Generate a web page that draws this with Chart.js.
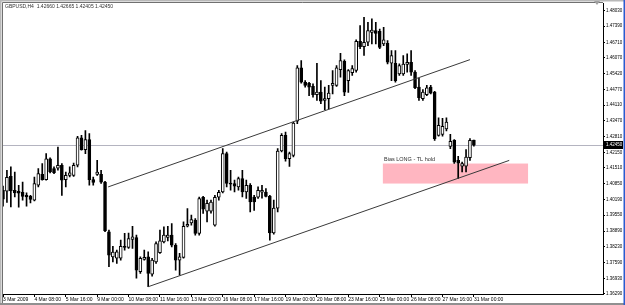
<!DOCTYPE html>
<html><head><meta charset="utf-8">
<script src="https://cdn.jsdelivr.net/npm/chart.js@4.4.1/dist/chart.umd.min.js"></script>
<style>html,body{margin:0;padding:0;background:#fff;overflow:hidden}canvas{display:block}</style>
</head><body>
<canvas id="c" width="625" height="305"></canvas>
<script>
// ---- DATA (GBPUSD H4, 3 Mar 2009 - 31 Mar 2009) ----
const symbolTitle = 'GBPUSD,H4  1.42660 1.42665 1.42405 1.42450';
const openP = [
1.4058,1.4054,1.4116,1.4058,1.4054,1.4050,1.4037,1.4033,1.4017,1.4079,
1.4124,1.4102,1.4189,1.4148,1.4150,1.4162,1.4102,1.4120,1.4120,1.4162,
1.4276,1.4227,1.4268,1.4102,1.4124,1.4124,1.4092,1.3886,1.3782,1.3776,
1.3776,1.3826,1.3821,1.3854,1.3862,1.3720,1.3771,1.3782,1.3710,1.3761,
1.3799,1.3844,1.3862,1.3872,1.3830,1.3768,1.3780,1.3909,1.3923,1.3934,
1.3879,1.4029,1.3971,1.3971,1.3913,1.4029,1.4051,1.4210,1.4088,1.4086,
1.4072,1.4107,1.4051,1.4079,1.4030,1.4029,1.4050,1.4051,1.4033,1.3881,
1.3984,1.4221,1.4286,1.4189,1.4203,1.4345,1.4566,1.4506,1.4502,1.4489,
1.4455,1.4465,1.4431,1.4438,1.4493,1.4493,1.4558,1.4593,1.4513,1.4546,
1.4555,1.4676,1.4654,1.4672,1.4713,1.4720,1.4717,1.4665,1.4668,1.4585,
1.4585,1.4541,1.4541,1.4580,1.4589,1.4548,1.4486,1.4438,1.4455,1.4486,
1.4465,1.4286,1.4290,1.4313,1.4240,1.4265,1.4182,1.4158,1.4158,1.4193,
1.42660];
const highP = [
1.4075,1.4141,1.4155,1.4134,1.4079,1.4092,1.4047,1.4037,1.4113,1.4148,
1.4169,1.4210,1.4193,1.4155,1.4237,1.4169,1.4134,1.4155,1.4171,1.4282,
1.4286,1.4306,1.4293,1.4113,1.4182,1.4141,1.4095,1.3893,1.3826,1.3810,
1.3851,1.3879,1.3881,1.3909,1.3872,1.3782,1.3810,1.3803,1.3776,1.3844,
1.3893,1.3906,1.3909,1.3920,1.3837,1.3796,1.3927,1.3982,1.3955,1.3941,
1.4030,1.4033,1.4017,1.4017,1.4037,1.4058,1.4231,1.4217,1.4141,1.4100,
1.4113,1.4141,1.4100,1.4086,1.4037,1.4072,1.4079,1.4065,1.4037,1.4017,
1.4231,1.4293,1.4299,1.4217,1.4341,1.4575,1.4596,1.4513,1.4506,1.4500,
1.4585,1.4513,1.4486,1.4493,1.4555,1.4575,1.4626,1.4599,1.4559,1.4575,
1.4682,1.4741,1.4775,1.4755,1.4769,1.4755,1.4727,1.4734,1.4679,1.4638,
1.4638,1.4583,1.4617,1.4624,1.4638,1.4555,1.4522,1.4476,1.4493,1.4493,
1.4469,1.4359,1.4356,1.4359,1.4290,1.4268,1.4199,1.4175,1.4227,1.4272,
1.42665];
const lowP = [
1.3992,1.4008,1.3989,1.4030,1.3988,1.4017,1.3992,1.4006,1.4014,1.4072,
1.4100,1.4100,1.4130,1.4127,1.4141,1.4037,1.4072,1.4113,1.4116,1.4155,
1.4224,1.4210,1.4079,1.4079,1.4120,1.4086,1.3886,1.3741,1.3761,1.3755,
1.3768,1.3810,1.3817,1.3817,1.3693,1.3713,1.3768,1.3658,1.3702,1.3755,
1.3796,1.3840,1.3848,1.3823,1.3727,1.3706,1.3776,1.3906,1.3913,1.3872,
1.3872,1.3962,1.3927,1.3963,1.3909,1.4017,1.4047,1.4072,1.4058,1.4051,
1.4058,1.4030,1.4024,1.3968,1.3975,1.4024,1.4025,1.4030,1.3851,1.3876,
1.3968,1.4217,1.4179,1.4157,1.4196,1.4334,1.4502,1.4486,1.4451,1.4444,
1.4431,1.4417,1.4392,1.4396,1.4458,1.4489,1.4527,1.4451,1.4464,1.4534,
1.4548,1.4645,1.4617,1.4658,1.4665,1.4665,1.4645,1.4658,1.4582,1.4513,
1.4506,1.4534,1.4534,1.4548,1.4534,1.4480,1.4431,1.4431,1.4451,1.4458,
1.4265,1.4282,1.4282,1.4304,1.4231,1.4169,1.4107,1.4134,1.4134,1.4182,
1.42405];
const closeP = [
1.4021,1.4112,1.4055,1.4047,1.4046,1.4033,1.4030,1.4020,1.4086,1.4127,
1.4102,1.4189,1.4134,1.4131,1.4162,1.4100,1.4120,1.4130,1.4162,1.4276,
1.4227,1.4268,1.4102,1.4091,1.4134,1.4092,1.3890,1.3789,1.3802,1.3803,
1.3826,1.3821,1.3858,1.3865,1.3727,1.3776,1.3780,1.3713,1.3768,1.3837,
1.3848,1.3872,1.3872,1.3830,1.3768,1.3782,1.3909,1.3917,1.3937,1.3879,
1.4024,1.3980,1.4004,1.4009,1.4029,1.4050,1.4210,1.4086,1.4083,1.4075,
1.4107,1.4051,1.4079,1.4010,1.4010,1.4058,1.4058,1.4033,1.3881,1.3984,
1.4221,1.4286,1.4189,1.4210,1.4337,1.4566,1.4506,1.4493,1.4486,1.4455,
1.4465,1.4428,1.4438,1.4461,1.4502,1.4566,1.4596,1.4465,1.4555,1.4563,
1.4676,1.4654,1.4672,1.4720,1.4723,1.4709,1.4651,1.4682,1.4589,1.4617,
1.4513,1.4575,1.4582,1.4589,1.4548,1.4484,1.4442,1.4465,1.4483,1.4461,
1.4272,1.4327,1.4323,1.4341,1.4261,1.4175,1.4171,1.4169,1.4196,1.4265,
1.42450];
const xTickIndex  = [0,8,16,24,32,40,48,56,64,72,80,88,96,104,112,120];
const xTickLabels = ['3 Mar 2009','4 Mar 08:00','5 Mar 16:00','9 Mar 00:00','10 Mar 08:00','11 Mar 16:00',
  '13 Mar 00:00','16 Mar 08:00','17 Mar 16:00','19 Mar 00:00','20 Mar 08:00','23 Mar 16:00',
  '25 Mar 00:00','26 Mar 08:00','27 Mar 16:00','31 Mar 00:00'];
const yTickValues = [1.48030,1.47390,1.46710,1.46070,1.45420,1.44770,1.44110,1.43470,1.42810,
  1.42150,1.41510,1.40850,1.40190,1.39550,1.38890,1.38230,1.37590,1.36930,1.36290];
const upperLineX = [26.8, 119.0];
const upperLineY = [1.4072, 1.4600];
const lowerLineX = [37.0, 129.0];
const lowerLineY = [1.3658, 1.4182];
const zoneX = [96.8, 133.8];
const zoneY = [1.4086, 1.4169];
const zoneText = 'Bias LONG - TL hold';
const zoneTextAt = [97.1, 1.4178];
const lastPrice = 1.42450;

// ---- CHART ----
const FONT = "'Liberation Sans',Arial,sans-serif";
const idx = openP.map((_, i) => i);
const bodies = idx.map(i => ({x: i, y: [openP[i], closeP[i]]}));
const wicks  = idx.map(i => ({x: i, y: [lowP[i], highP[i]]}));
const upperLine = upperLineX.map((x, k) => ({x, y: upperLineY[k]}));
const lowerLine = lowerLineX.map((x, k) => ({x, y: lowerLineY[k]}));

const deco = {
  id: 'deco',
  beforeDraw(chart) {
    const c = chart.ctx;
    c.save();
    c.fillStyle = '#fff';
    c.fillRect(0, 0, chart.width, chart.height);
    c.restore();
  },
  beforeDatasetsDraw(chart) {
    const c = chart.ctx, xs = chart.scales.x, ys = chart.scales.y, a = chart.chartArea;
    c.save();
    c.beginPath(); c.rect(a.left, a.top, a.right - a.left, a.bottom - a.top); c.clip();
    const x1 = xs.getPixelForValue(zoneX[0]), x2 = xs.getPixelForValue(zoneX[1]);
    const y1 = ys.getPixelForValue(zoneY[1]), y2 = ys.getPixelForValue(zoneY[0]);
    c.fillStyle = 'rgb(255,182,193)';
    c.fillRect(x1, y1, x2 - x1, y2 - y1);
    const yb = Math.round(ys.getPixelForValue(lastPrice)) + 0.5;
    c.strokeStyle = '#b4b4c0'; c.lineWidth = 1;
    c.beginPath(); c.moveTo(a.left, yb); c.lineTo(a.right, yb); c.stroke();
    c.restore();
  },
  afterDraw(chart) {
    const c = chart.ctx, xs = chart.scales.x, ys = chart.scales.y, a = chart.chartArea;
    c.save();
    c.font = '5.5px ' + FONT; c.fillStyle = '#303030';
    c.textBaseline = 'alphabetic'; c.textAlign = 'left';
    c.fillText(zoneText, xs.getPixelForValue(zoneTextAt[0]), ys.getPixelForValue(zoneTextAt[1]));
    c.font = '5px ' + FONT; c.fillStyle = '#303030'; c.textBaseline = 'middle';
    c.fillText(symbolTitle, 5, 7);
    c.strokeStyle = '#707070'; c.lineWidth = 1;
    c.beginPath(); c.moveTo(2.5, 305); c.lineTo(2.5, 2.5); c.lineTo(a.right, 2.5); c.stroke();
    c.fillStyle = '#b8b8b8';
    c.fillRect(0, 0, 625, 1.5); c.fillRect(0, 0, 1.5, 305);
    c.fillStyle = '#909090'; c.fillRect(0, 303, 625, 2);
    c.fillStyle = '#2a5bd0'; c.fillRect(623.5, 0, 1.5, 305);
    c.fillStyle = '#a0a0a0';
    c.beginPath(); c.moveTo(594, 1); c.lineTo(600, 1); c.lineTo(597, 5); c.closePath(); c.fill();
    const yp = ys.getPixelForValue(lastPrice);
    c.fillStyle = '#000'; c.fillRect(a.right + 1, Math.round(yp) - 4, 19, 8);
    c.fillStyle = '#fff'; c.font = '4.5px ' + FONT; c.textBaseline = 'middle'; c.textAlign = 'left';
    c.fillText(lastPrice.toFixed(5), a.right + 3, Math.round(yp));
    c.restore();
  }
};

new Chart(document.getElementById('c'), {
  type: 'bar',
  data: {
    datasets: [
      {type: 'line', data: upperLine, borderColor: '#3a3a3a', borderWidth: 1, pointRadius: 0, order: 0},
      {type: 'line', data: lowerLine, borderColor: '#3a3a3a', borderWidth: 1, pointRadius: 0, order: 0},
      {data: bodies, barThickness: 3, grouped: false, order: 1,
        backgroundColor: ctx => (closeP[ctx.dataIndex] >= openP[ctx.dataIndex] ? '#ffffff' : '#000000'),
        borderColor: '#000', borderWidth: 1, borderSkipped: false, minBarLength: 1},
      {data: wicks, barThickness: 1, grouped: false, order: 2, backgroundColor: '#000', borderWidth: 0}
    ]
  },
  options: {
    responsive: false, animation: false, devicePixelRatio: 1,
    layout: {padding: {left: 3, top: 3, right: 0, bottom: 0}},
    plugins: {legend: {display: false}, tooltip: {enabled: false}},
    scales: {
      x: {
        type: 'linear', min: 0, max: 152.9, offset: false,
        grid: {display: true, drawOnChartArea: false, offset: false, tickLength: 3, color: '#000'},
        border: {display: true, color: '#000'},
        afterBuildTicks: s => { s.ticks = xTickIndex.map(v => ({value: v})); },
        afterFit: s => { s.height = 11; },
        ticks: {autoSkip: false, maxRotation: 0, minRotation: 0, align: 'start', padding: 0,
          font: {family: FONT, size: 5}, color: '#000',
          callback: v => { const k = xTickIndex.indexOf(v); return k >= 0 ? xTickLabels[k] : ''; }}
      },
      y: {
        position: 'right', min: 1.36278, max: 1.48320,
        grid: {drawOnChartArea: false, tickLength: 2, color: '#000'},
        border: {display: true, color: '#000'},
        afterBuildTicks: s => { s.ticks = yTickValues.map(v => ({value: v})); },
        afterFit: s => { s.width = 22; },
        ticks: {padding: 1, font: {family: FONT, size: 4.5}, color: '#000', callback: v => Number(v).toFixed(5)}
      }
    }
  },
  plugins: [deco]
});
</script>
</body></html>
